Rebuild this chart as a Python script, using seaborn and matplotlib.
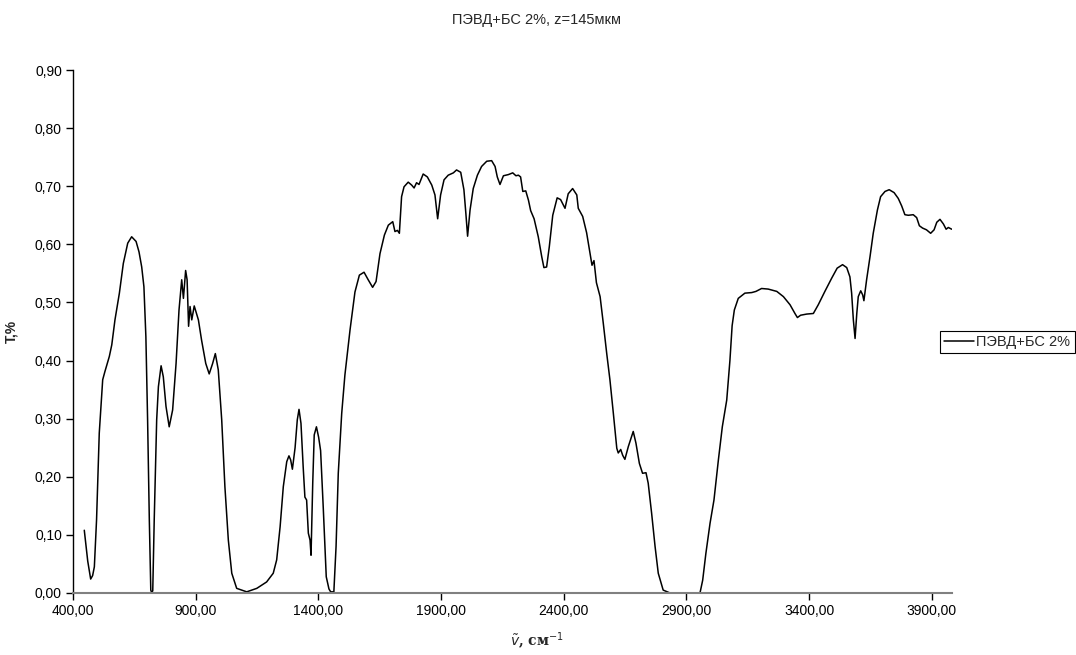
import matplotlib
matplotlib.use("Agg")
import matplotlib.pyplot as plt
from matplotlib.ticker import FuncFormatter, MultipleLocator
import seaborn as sns
import pandas as pd

title_text = "ПЭВД+БС 2%, z=145мкм"
series_name = "ПЭВД+БС 2%"
x_label = r"$\tilde{v}$, см$^{-1}$"
y_label = "T,%"

wavenumber = [
    446, 460, 472, 480, 487, 496, 507, 521, 530, 548, 558, 571, 589, 605, 623, 639, 657, 669, 680, 689,
    697, 704, 711, 717, 721, 725, 731, 741, 748, 759, 768, 779, 792, 806, 820, 832, 843, 850, 859, 865,
    871, 877, 884, 894, 911, 924, 941, 955, 969, 980, 992, 1006, 1019, 1033, 1047, 1067, 1108, 1149, 1189, 1216,
    1230, 1244, 1257, 1271, 1280, 1287, 1294, 1305, 1314, 1321, 1329, 1338, 1345, 1352, 1359, 1366, 1370, 1377, 1383, 1392,
    1401, 1409, 1420, 1432, 1443, 1450, 1463, 1472, 1481, 1495, 1508, 1529, 1549, 1567, 1586, 1603, 1621, 1635, 1651, 1669,
    1685, 1703, 1712, 1722, 1730, 1739, 1749, 1766, 1780, 1790, 1800, 1810, 1827, 1844, 1862, 1875, 1886, 1898, 1912, 1929,
    1950, 1963, 1980, 1993, 2001, 2008, 2018, 2031, 2048, 2065, 2086, 2106, 2120, 2129, 2140, 2154, 2174, 2192, 2205, 2215,
    2224, 2233, 2245, 2256, 2265, 2279, 2296, 2310, 2319, 2330, 2341, 2355, 2373, 2387, 2405, 2418, 2436, 2453, 2459, 2477,
    2493, 2507, 2515, 2523, 2533, 2548, 2561, 2575, 2588, 2602, 2616, 2622, 2632, 2640, 2649, 2663, 2683, 2694, 2708, 2721,
    2735, 2744, 2758, 2772, 2785, 2805, 2833, 2955, 2966, 2979, 2996, 3012, 3030, 3046, 3064, 3077, 3086, 3095, 3111, 3138,
    3166, 3183, 3206, 3233, 3268, 3295, 3322, 3342, 3352, 3365, 3390, 3417, 3437, 3464, 3492, 3514, 3536, 3553, 3566, 3573,
    3580, 3587, 3594, 3600, 3610, 3618, 3623, 3634, 3648, 3661, 3678, 3691, 3709, 3726, 3746, 3763, 3777, 3790, 3804, 3824,
    3838, 3849, 3862, 3878, 3895, 3909, 3920, 3933, 3947, 3958, 3967, 3981,
]

transmittance = [
    0.108, 0.055, 0.024, 0.030, 0.045, 0.126, 0.275, 0.367, 0.381, 0.407, 0.427, 0.470, 0.516, 0.567, 0.602, 0.613, 0.605, 0.587, 0.561, 0.527,
    0.441, 0.298, 0.126, 0.005, 0.000, 0.004, 0.126, 0.298, 0.355, 0.391, 0.372, 0.321, 0.286, 0.315, 0.395, 0.487, 0.539, 0.507, 0.555, 0.539,
    0.459, 0.493, 0.470, 0.494, 0.470, 0.435, 0.395, 0.377, 0.395, 0.412, 0.384, 0.298, 0.183, 0.091, 0.034, 0.008, 0.002, 0.008, 0.019, 0.034,
    0.057, 0.114, 0.183, 0.226, 0.236, 0.229, 0.213, 0.250, 0.298, 0.316, 0.292, 0.217, 0.165, 0.160, 0.103, 0.091, 0.065, 0.190, 0.272, 0.286,
    0.268, 0.245, 0.145, 0.028, 0.007, 0.002, 0.002, 0.080, 0.206, 0.309, 0.375, 0.453, 0.518, 0.547, 0.552, 0.539, 0.526, 0.536, 0.584, 0.616,
    0.633, 0.639, 0.622, 0.624, 0.619, 0.682, 0.699, 0.707, 0.702, 0.697, 0.706, 0.703, 0.721, 0.716, 0.702, 0.685, 0.644, 0.685, 0.711, 0.719,
    0.723, 0.728, 0.724, 0.694, 0.653, 0.614, 0.659, 0.696, 0.719, 0.734, 0.743, 0.744, 0.734, 0.716, 0.703, 0.718, 0.720, 0.723, 0.718, 0.719,
    0.716, 0.691, 0.692, 0.676, 0.658, 0.644, 0.613, 0.579, 0.560, 0.561, 0.596, 0.650, 0.680, 0.677, 0.662, 0.687, 0.696, 0.685, 0.662, 0.648,
    0.620, 0.585, 0.564, 0.572, 0.534, 0.510, 0.464, 0.412, 0.367, 0.309, 0.249, 0.241, 0.247, 0.237, 0.230, 0.252, 0.278, 0.258, 0.223, 0.206,
    0.207, 0.189, 0.137, 0.080, 0.034, 0.005, 0.000, 0.000, 0.022, 0.068, 0.120, 0.160, 0.229, 0.286, 0.332, 0.400, 0.460, 0.487, 0.507, 0.516,
    0.517, 0.519, 0.524, 0.523, 0.519, 0.510, 0.496, 0.481, 0.474, 0.478, 0.480, 0.481, 0.496, 0.519, 0.542, 0.559, 0.565, 0.560, 0.544, 0.516,
    0.470, 0.438, 0.481, 0.510, 0.520, 0.513, 0.503, 0.539, 0.579, 0.619, 0.659, 0.682, 0.691, 0.694, 0.689, 0.679, 0.666, 0.651, 0.650, 0.651,
    0.646, 0.632, 0.628, 0.625, 0.619, 0.625, 0.638, 0.643, 0.635, 0.626, 0.629, 0.626,
]

x_ticks = [400, 900, 1400, 1900, 2400, 2900, 3400, 3900]

sns.set_style("white")
plt.rcParams["font.family"] = ["Liberation Sans", "DejaVu Sans"]

df = pd.DataFrame({"wavenumber": wavenumber, "T": transmittance})

fig = plt.figure(figsize=(10.76, 6.55), dpi=100)
ax = fig.add_axes([73 / 1076, 62 / 655, (952 - 73) / 1076, (593 - 70) / 655])

sns.lineplot(data=df, x="wavenumber", y="T", ax=ax, color="black",
             linewidth=1.1, label=series_name, sort=False)

ax.set_xlim(400, 3982)
ax.set_ylim(0, 0.9)
ax.set_xticks(x_ticks)
ax.yaxis.set_major_locator(MultipleLocator(0.1))
ax.xaxis.set_major_formatter(FuncFormatter(lambda v, p: f"{v:.2f}".replace(".", ",")))
ax.yaxis.set_major_formatter(FuncFormatter(lambda v, p: f"{v:.2f}".replace(".", ",")))
ax.tick_params(axis="both", direction="out", length=5, width=1, labelsize=10,
               colors="black", left=True, bottom=True, pad=3)

for s in ["top", "right"]:
    ax.spines[s].set_visible(False)
ax.spines["left"].set_color("black")
ax.spines["left"].set_linewidth(1.0)
ax.spines["bottom"].set_color("#808080")
ax.spines["bottom"].set_linewidth(1.5)

ax.set_xlabel(x_label, fontsize=10, fontweight="bold", family=["DejaVu Serif"])
ax.xaxis.set_label_coords((537 - 73) / 879, (593 - 631) / 523)
ax.set_ylabel(y_label, fontsize=10, fontweight="bold")
ax.yaxis.set_label_coords((18 - 73) / 879, 0.5)

fig.suptitle(title_text, fontsize=10.5, x=536 / 1076, y=1 - 20 / 655, va="center")

ax.get_legend().remove()
handles, labels = ax.get_legend_handles_labels()
leg = fig.legend(handles, labels, loc="center left",
                 bbox_to_anchor=(940 / 1076, 1 - 342 / 655),
                 frameon=True, fancybox=False, framealpha=1, edgecolor="black",
                 fontsize=10.5, borderaxespad=0, handlelength=2.0,
                 borderpad=0.3, handletextpad=0.2)
leg.get_frame().set_linewidth(0.8)

fig.savefig("out.png", dpi=100)
